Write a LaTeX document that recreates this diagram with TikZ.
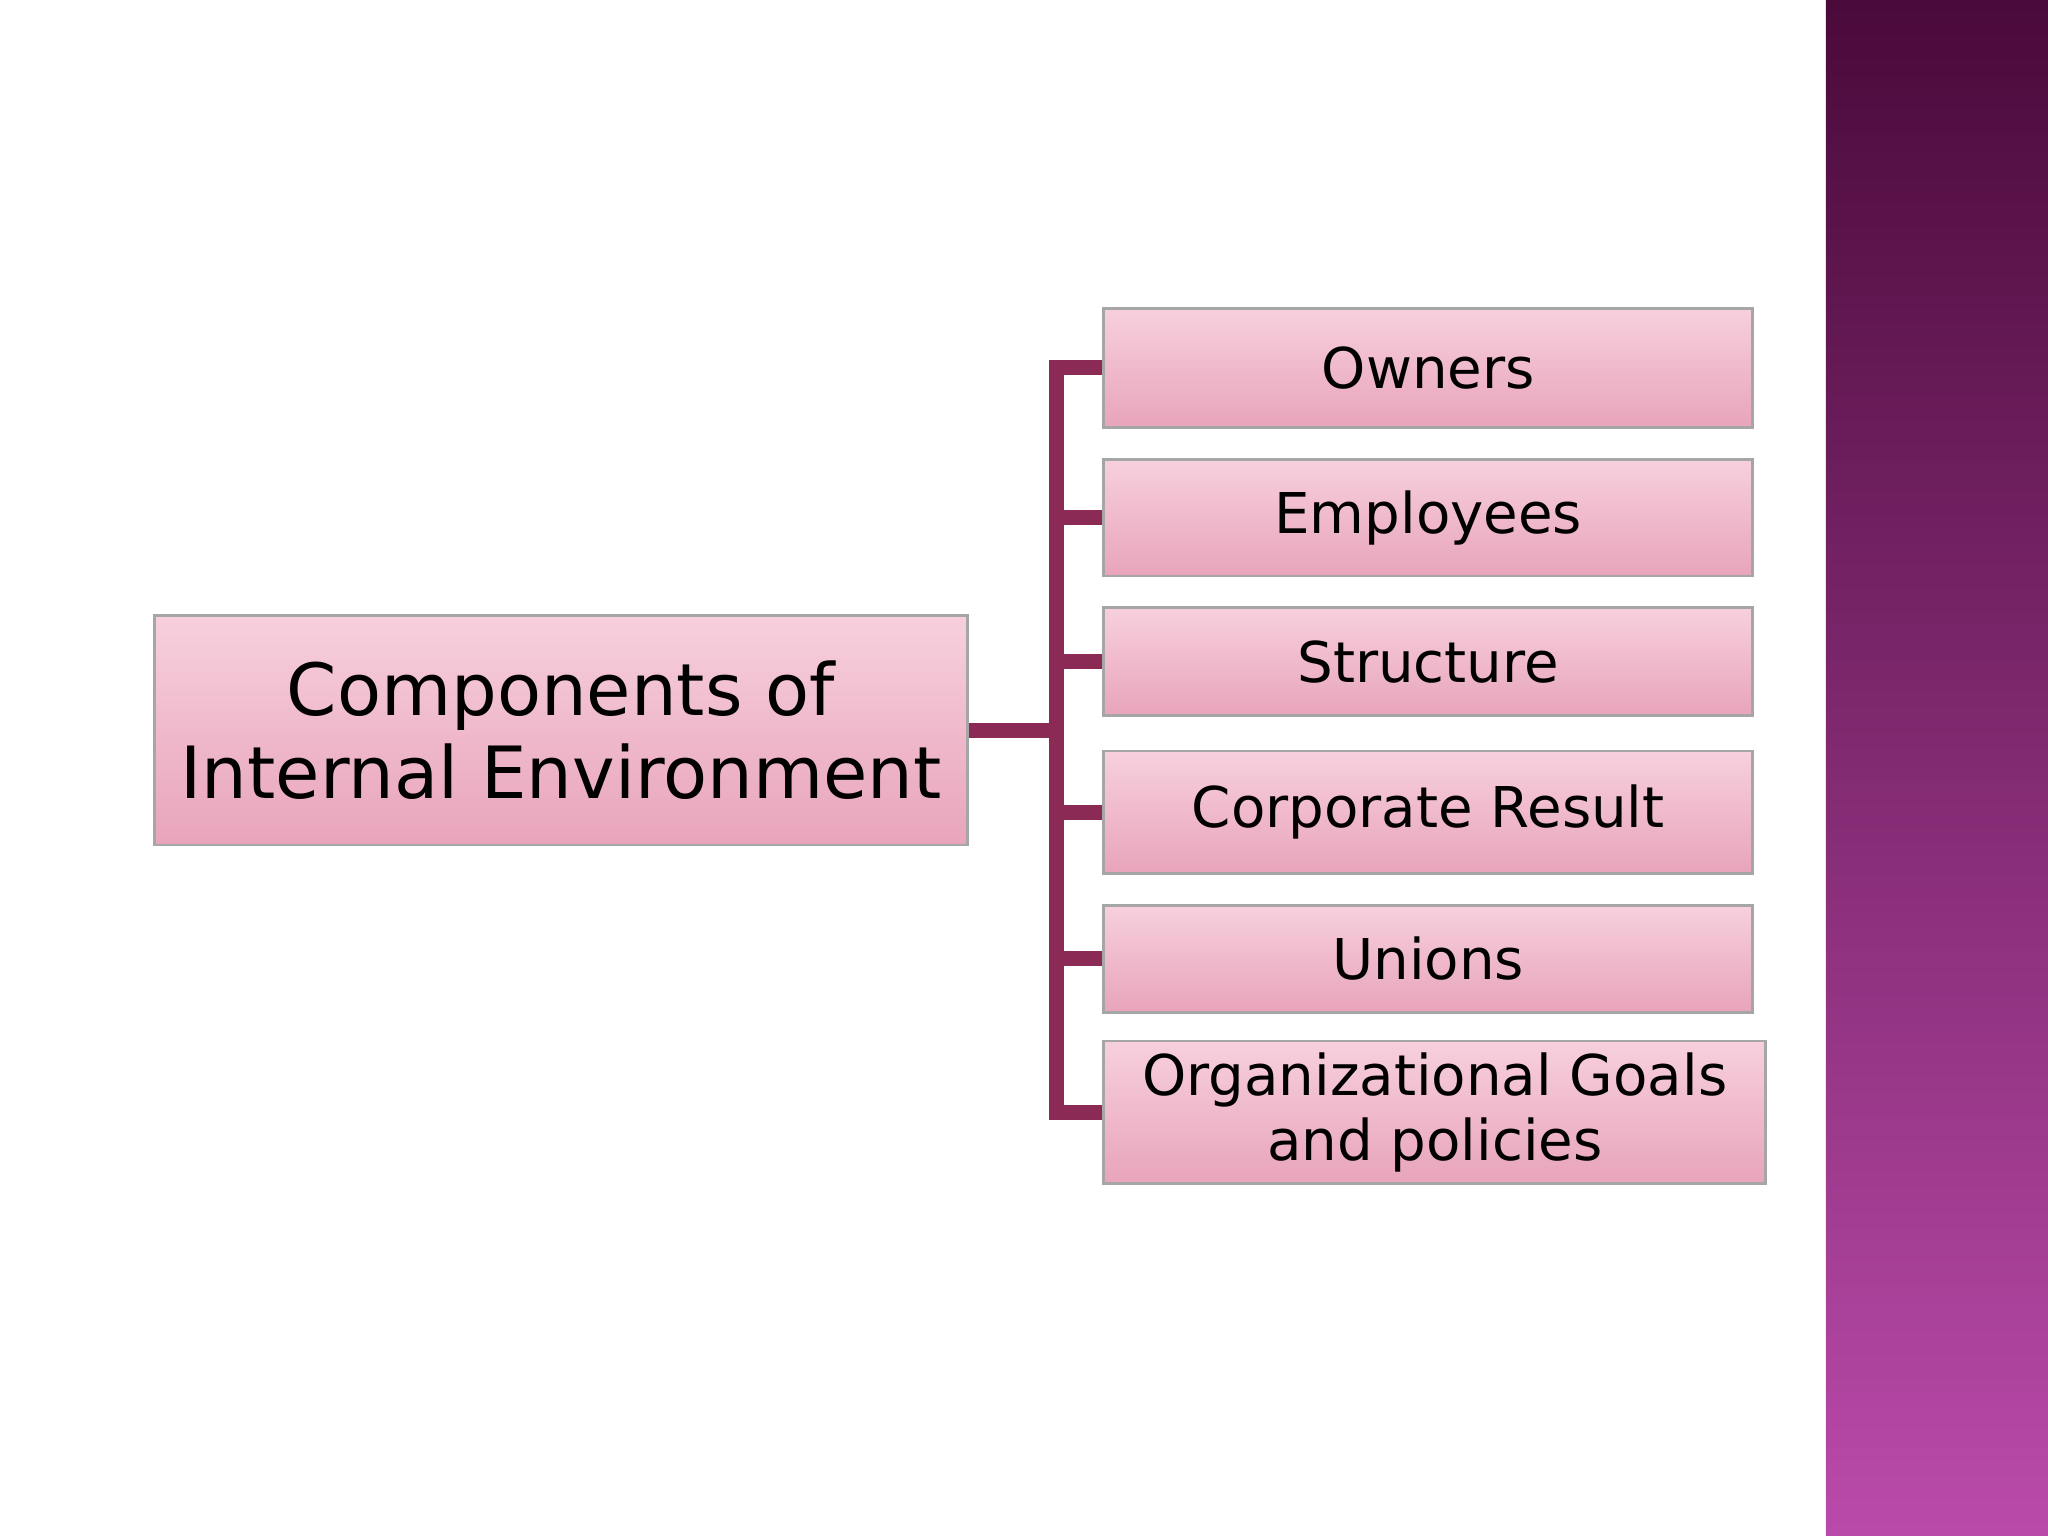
\documentclass[tikz,border=0pt]{standalone}
\usepackage{fontspec}
\setmainfont{DejaVu Sans}
\definecolor{conn}{HTML}{8B2A55}
\definecolor{ptop}{HTML}{F7D0DD}
\definecolor{pbot}{HTML}{E8A4BA}
\definecolor{stop}{HTML}{4A0A3A}
\definecolor{sbot}{HTML}{BA4AAA}
\begin{document}
\begin{tikzpicture}[x=0.01306cm,y=-0.01306cm,
  box/.style={draw=gray!70,line width=0.8pt,top color=ptop,bottom color=pbot,inner sep=0pt,align=center,text=black},
  link/.style={draw=conn,line width=1.5mm}]
\useasboundingbox (0,0) rectangle (1568,1176);
\fill[top color=stop,bottom color=sbot] (1398,0) rectangle (1568,1176);
\node[box,minimum width=623*0.01306cm,minimum height=176*0.01306cm,font=\fontsize{20.5}{23.5}\selectfont] (m) at (429.5,559) {Components of\\Internal Environment};
\foreach \n/\t/\a/\b/\r in {o/Owners/236/327/1342,e/Employees/352/441/1342,s/Structure/465/548/1342,c/Corporate Result/575/669/1342,u/Unions/693/775/1342,g/{Organizational Goals\\and policies}/797/906/1352}{
  \node[box,minimum width={(\r-845)*0.01306cm},minimum height={(\b-\a)*0.01306cm},font=\fontsize{16}{18.5}\selectfont] (\n) at ({(845+\r)/2},{(\a+\b)/2}) {\t};
}
\coordinate (t1) at (809,0);
\draw[link] (m.east) -- (m.east -| t1);
\draw[link] (o.west) -- (o.west -| t1) -- (g.west -| t1) -- (g.west);
\foreach \n in {e,s,c,u}{\draw[link] (\n.west) -- (\n.west -| t1);}
\end{tikzpicture}
\end{document}
